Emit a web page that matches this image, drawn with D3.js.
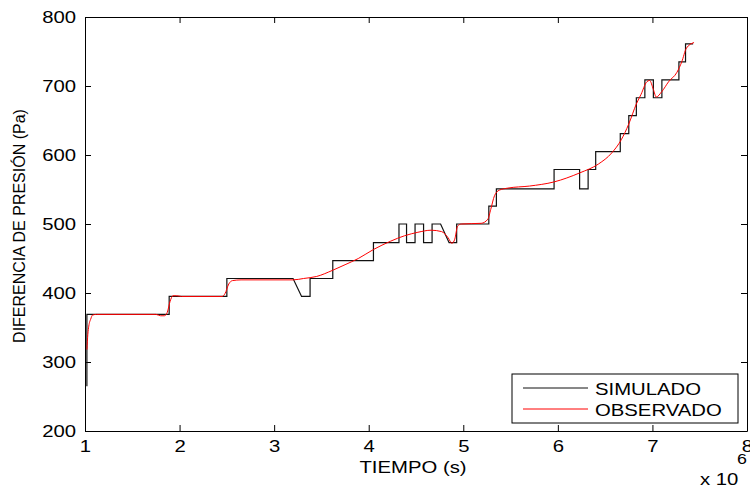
<!DOCTYPE html>
<html>
<head>
<meta charset="utf-8">
<script src="https://cdn.jsdelivr.net/npm/d3@7"></script>
<style>
  body { margin: 0; background: #fff; }
  text { font-family: "Liberation Sans", Arial, sans-serif; fill: #000; }
</style>
</head>
<body>
<div id="chart"></div>
<script>
// simulated (step) series: time in units of 1e6 s, pressure in Pa
var simT = [1.02, 1.02, 1.89, 1.89, 2.50, 2.50, 3.20, 3.29, 3.38, 3.38, 3.62, 3.62, 4.05, 4.05,
  4.32, 4.32, 4.40, 4.40, 4.49, 4.49, 4.58, 4.58, 4.67, 4.67, 4.76, 4.85, 4.93, 4.93, 5.27, 5.27,
  5.35, 5.35, 5.96, 5.96, 6.23, 6.23, 6.32, 6.32, 6.40, 6.40, 6.66, 6.66, 6.75, 6.75, 6.83, 6.83,
  6.92, 6.92, 7.01, 7.01, 7.10, 7.10, 7.28, 7.28, 7.35, 7.35, 7.43];
var simP = [265, 369, 369, 395, 395, 421, 421, 395, 395, 421, 421, 447, 447, 473,
  473, 500, 500, 473, 473, 500, 500, 473, 473, 500, 500, 473, 473, 500, 500, 526,
  526, 551, 551, 579, 579, 551, 551, 579, 579, 605, 605, 631, 631, 657, 657, 683,
  683, 709, 709, 683, 683, 709, 709, 735, 735, 761, 761];

// observed series
var obsT = [1.02, 1.03, 1.04, 1.06, 1.08, 1.12, 1.75, 1.80, 1.84, 1.87, 1.90, 1.93, 1.97, 2.02,
  2.45, 2.48, 2.52, 2.56, 2.65, 3.20, 3.31, 3.45, 3.62, 3.75, 3.89, 4.05, 4.23, 4.38, 4.52,
  4.66, 4.77, 4.84, 4.88, 4.91, 4.94, 4.98, 5.19, 5.26, 5.29, 5.33, 5.38, 5.47, 5.70, 5.96,
  6.23, 6.43, 6.57, 6.67, 6.75, 6.83, 6.88, 6.94, 6.97, 7.01, 7.04, 7.10, 7.17, 7.26, 7.31,
  7.36, 7.44];
var obsP = [318, 340, 352, 362, 368, 369, 369, 367, 367, 372, 388, 396, 396, 395,
  395, 399, 413, 418, 419, 419, 421, 424, 433, 441, 450, 463, 475, 483, 488,
  491, 489, 480, 472, 478, 497, 500, 501, 507, 521, 541, 549, 552, 555, 561,
  574, 587, 603, 622, 645, 674, 688, 706, 708, 695, 684, 692, 706, 720, 735,
  755, 763];

var xTicks = [1, 2, 3, 4, 5, 6, 7, 8];
var yTicks = [200, 300, 400, 500, 600, 700, 800];
var seriesNames = ["SIMULADO", "OBSERVADO"];
var seriesColors = ["#111", "#ff0000"];

var svgWidth = 750;
var svgHeight = 487;
var margin = { top: 17, right: 3, bottom: 56, left: 85 };
var chartWidth = svgWidth - margin.left - margin.right;
var chartHeight = svgHeight - margin.top - margin.bottom;
var stretch = 1.27; // horizontal text stretch seen in the reference

var svg = d3.select("#chart").append("svg")
  .attr("width", svgWidth)
  .attr("height", svgHeight);

var chart = svg.append("g")
  .attr("transform", "translate(" + margin.left + "," + margin.top + ")");

var x = d3.scaleLinear().domain([1, 8]).range([0, chartWidth]);
var y = d3.scaleLinear().domain([200, 800]).range([chartHeight, 0]);

// axes, ticks inward like matlab
var bottomAxis = d3.axisBottom(x).tickValues(xTicks).tickFormat(d3.format("d"))
  .tickSizeInner(-6).tickSizeOuter(0).tickPadding(10);
var leftAxis = d3.axisLeft(y).tickValues(yTicks).tickFormat(d3.format("d"))
  .tickSizeInner(-6).tickSizeOuter(0).tickPadding(9);
var topAxis = d3.axisTop(x).tickValues(xTicks).tickSizeInner(-6).tickSizeOuter(0).tickFormat("");
var rightAxis = d3.axisRight(y).tickValues(yTicks).tickSizeInner(-6).tickSizeOuter(0).tickFormat("");

var gx = chart.append("g").attr("transform", "translate(0," + chartHeight + ")").call(bottomAxis);
var gy = chart.append("g").call(leftAxis);
var gt = chart.append("g").call(topAxis);
var gr = chart.append("g").attr("transform", "translate(" + chartWidth + ",0)").call(rightAxis);

[gx, gy, gt, gr].forEach(function(g) {
  g.selectAll("path, line").attr("stroke", "#000").attr("stroke-width", 1);
  g.selectAll("text").attr("font-family", "Liberation Sans, Arial, sans-serif")
    .attr("font-size", 16).attr("fill", "#000");
});
gx.selectAll("text").attr("transform", "scale(" + stretch + ",1)");
gy.selectAll("text").attr("transform", "scale(" + stretch + ",1)").attr("x", -9 / stretch);

// lines
var simData = simT.map(function(t, i) { return [t, simP[i]]; });
var obsData = obsT.map(function(t, i) { return [t, obsP[i]]; });

var line = d3.line()
  .x(function(d) { return x(d[0]); })
  .y(function(d) { return y(d[1]); });

chart.append("path").datum(simData)
  .attr("d", line)
  .attr("fill", "none")
  .attr("stroke", seriesColors[0])
  .attr("stroke-width", 1.2);

chart.append("path").datum(obsData)
  .attr("d", d3.line().curve(d3.curveMonotoneX)
    .x(function(d) { return x(d[0]); })
    .y(function(d) { return y(d[1]); }))
  .attr("fill", "none")
  .attr("stroke", seriesColors[1])
  .attr("stroke-width", 1);

// axis titles
svg.append("text")
  .attr("transform", "translate(413,473) scale(" + stretch + ",1)")
  .attr("text-anchor", "middle")
  .attr("font-size", 16)
  .text("TIEMPO (s)");

svg.append("text")
  .attr("transform", "translate(25,226) rotate(-90)")
  .attr("text-anchor", "middle")
  .attr("font-size", 16)
  .text("DIFERENCIA DE PRESIÓN (Pa)");

svg.append("text")
  .attr("transform", "translate(700,485) scale(" + stretch + ",1)")
  .attr("font-size", 16)
  .text("x 10");
svg.append("text")
  .attr("transform", "translate(737,464) scale(" + stretch + ",1)")
  .attr("font-size", 14)
  .text("6");

// legend
var legend = svg.append("g").attr("transform", "translate(512,374)");
legend.append("rect")
  .attr("width", 226).attr("height", 49)
  .attr("fill", "#fff").attr("stroke", "#000").attr("stroke-width", 1);

seriesNames.forEach(function(name, i) {
  var ly = 14 + i * 21;
  legend.append("line")
    .attr("x1", 11).attr("x2", 76)
    .attr("y1", ly).attr("y2", ly)
    .attr("stroke", seriesColors[i]).attr("stroke-width", 1);
  legend.append("text")
    .attr("transform", "translate(83," + (ly + 7) + ") scale(" + stretch + ",1)")
    .attr("font-size", 16)
    .text(name);
});
</script>
</body>
</html>
